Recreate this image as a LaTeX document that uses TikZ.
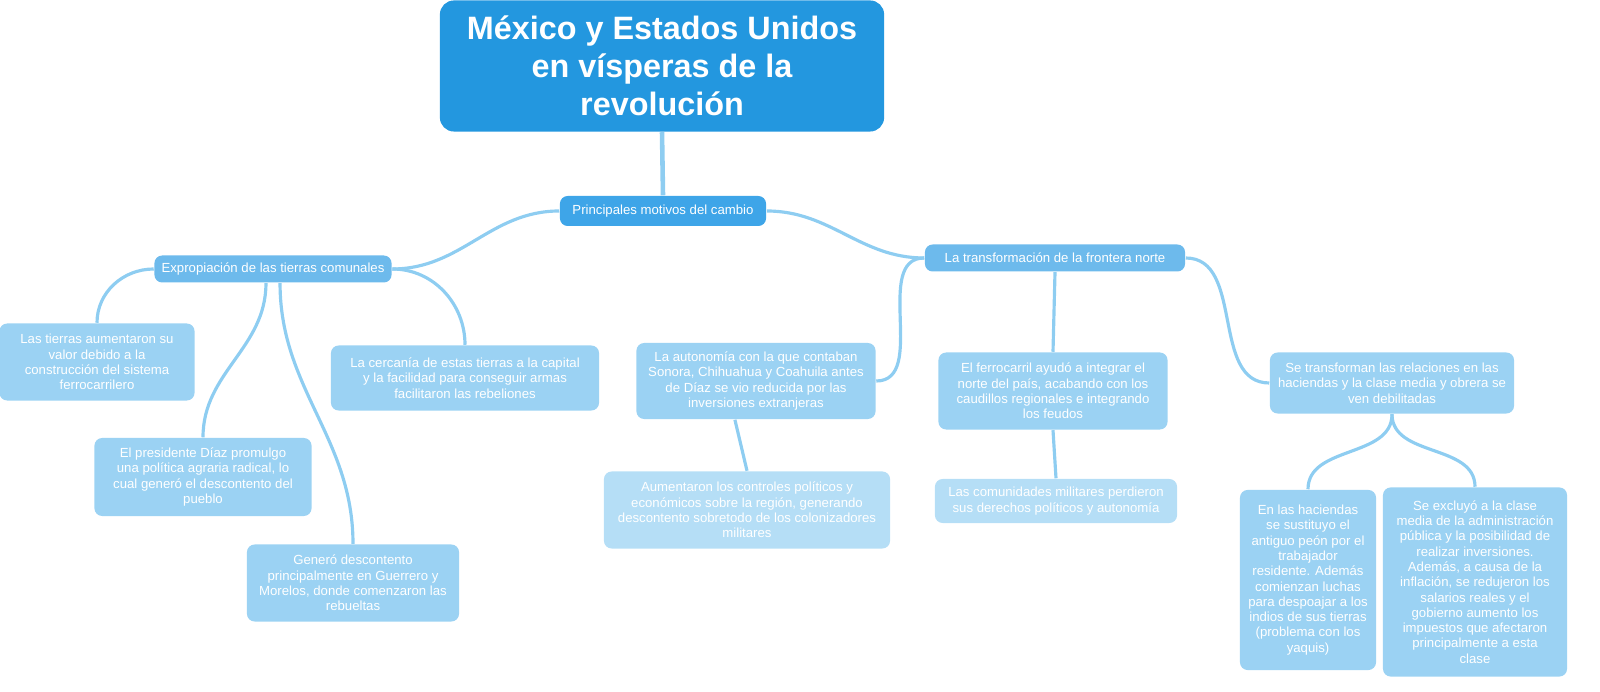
\documentclass[tikz,border=0pt]{standalone}
\usepackage{fontspec}
\setmainfont{Liberation Sans}
\begin{document}
\begin{tikzpicture}[x=0.01cm,y=-0.01cm,
 box/.style={rounded corners=2.2pt,align=center,text=white,inner sep=0pt,font=\fontsize{3.75}{4.35}\selectfont},
 leaf/.style={box,fill=leafc},
 leaf2/.style={box,fill=leafd},
 mid/.style={box,fill=midc},
 link/.style={draw=linkc,line width=0.9pt}]
\definecolor{titlec}{HTML}{2397DF}
\definecolor{topc}{HTML}{3EA5E8}
\definecolor{midc}{HTML}{6DBAEC}
\definecolor{leafc}{HTML}{9BD2F3}
\definecolor{leafd}{HTML}{B5DEF6}
\definecolor{linkc}{HTML}{8ECDF1}
\useasboundingbox (0,0) rectangle (1600,692);
\node[box,fill=titlec,rounded corners=4pt,minimum width=4.44cm,minimum height=1.31cm,font=\bfseries\fontsize{9.2}{10.8}\selectfont] (t) at (662,66) {México y Estados Unidos\\en vísperas de la\\revolución};
\node[box,fill=topc,minimum width=2.06cm,minimum height=0.3cm] (p) at (663,211) {Principales motivos del cambio};
\node[mid,minimum width=2.37cm,minimum height=0.27cm] (e) at (273,269) {Expropiación de las tierras comunales};
\node[mid,minimum width=2.6cm,minimum height=0.27cm] (f) at (1055,258) {La transformación de la frontera norte};
\node[leaf,minimum width=1.95cm,minimum height=0.77cm] (l1) at (97,362) {Las tierras aumentaron su\\valor debido a la\\construcción del sistema\\ferrocarrilero};
\node[leaf,minimum width=2.17cm,minimum height=0.78cm] (l2) at (203,477) {El presidente Díaz promulgo\\una política agraria radical, lo\\cual generó el descontento del\\pueblo};
\node[leaf,minimum width=2.12cm,minimum height=0.77cm] (l3) at (353,583) {Generó descontento\\principalmente en Guerrero y\\Morelos, donde comenzaron las\\rebueltas};
\node[leaf,minimum width=2.68cm,minimum height=0.65cm] (l4) at (465,378) {La cercanía de estas tierras a la capital\\y la facilidad para conseguir armas\\facilitaron las rebeliones};
\node[leaf,minimum width=2.39cm,minimum height=0.76cm] (a) at (756,381) {La autonomía con la que contaban\\Sonora, Chihuahua y Coahuila antes\\de Díaz se vio reducida por las\\inversiones extranjeras};
\node[leaf2,minimum width=2.86cm,minimum height=0.77cm] (a2) at (747,510) {Aumentaron los controles políticos y\\económicos sobre la región, generando\\descontento sobretodo de los colonizadores\\militares};
\node[leaf,minimum width=2.29cm,minimum height=0.77cm] (r) at (1053,391) {El ferrocarril ayudó a integrar el\\norte del país, acabando con los\\caudillos regionales e integrando\\los feudos};
\node[leaf2,minimum width=2.42cm,minimum height=0.44cm] (r2) at (1056,501) {Las comunidades militares perdieron\\sus derechos políticos y autonomía};
\node[leaf,minimum width=2.44cm,minimum height=0.61cm] (s) at (1392,383) {Se transforman las relaciones en las\\haciendas y la clase media y obrera se\\ven debilitadas};
\node[leaf,minimum width=1.36cm,minimum height=1.8cm] (s1) at (1308,580) {En las haciendas\\se sustituyo el\\antiguo peón por el\\trabajador\\residente. Además\\comienzan luchas\\para despoajar a los\\indios de sus tierras\\(problema con los\\yaquis)};
\node[leaf,minimum width=1.84cm,minimum height=1.89cm] (s2) at (1475,582) {Se excluyó a la clase\\media de la administración\\pública y la posibilidad de\\realizar inversiones.\\Además, a causa de la\\inflación, se redujeron los\\salarios reales y el\\gobierno aumento los\\impuestos que afectaron\\principalmente a esta\\clase};
\draw[link,line width=1.3pt] (t.south) -- (p.north);
\draw[link] (p.west) to[out=180,in=0] (e.east);
\draw[link] (p.east) to[out=0,in=180] (f.west);
\draw[link] (e.west) to[out=180,in=90] (l1.north);
\draw[link] ([xshift=-2]e.south) to[out=-90,in=90] (l2.north);
\draw[link] ([xshift=2]e.south) to[out=-90,in=90] (l3.north);
\draw[link] (e.east) to[out=0,in=90] (l4.north);
\draw[link] (f.west) to[out=180,in=0] (a.east);
\draw[link] (f.south) -- (r.north);
\draw[link] (f.east) to[out=0,in=180] (s.west);
\draw[link] ([xshift=-6]a.south) -- (a2.north);
\draw[link] (r.south) -- (r2.north);
\draw[link] (s.south) to[out=-90,in=90] (s1.north);
\draw[link] (s.south) to[out=-90,in=90] (s2.north);
\end{tikzpicture}
\end{document}
